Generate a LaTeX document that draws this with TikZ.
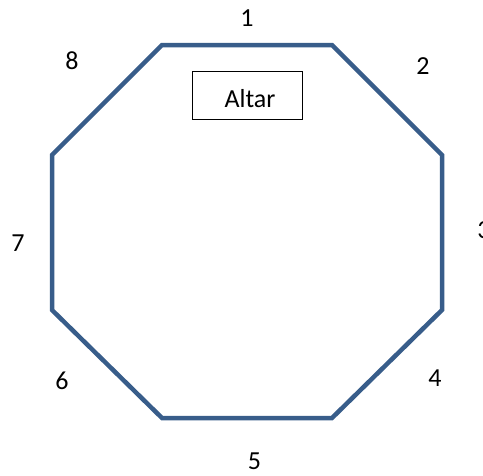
\documentclass[tikz,border=0pt]{standalone}
\usepackage{fontspec}
\setmainfont{Carlito}
\definecolor{octline}{RGB}{56,93,138}
\begin{document}
\begin{tikzpicture}[x=1pt,y=-1pt,
  lbl/.style={font=\fontsize{26}{30}\selectfont, inner sep=0pt},
  oct/.style={draw=octline, line width=4.5pt, line join=miter}]
\useasboundingbox (0,0) rectangle (483,475);
\begin{scope}
\clip (0,0) rectangle (483,475);
\coordinate (v1) at (162,45);
\coordinate (v2) at (332,45);
\coordinate (v3) at (442,155);
\coordinate (v4) at (442,310);
\coordinate (v5) at (332,418);
\coordinate (v6) at (162,418);
\coordinate (v7) at (52,310);
\coordinate (v8) at (52,155);
\draw[oct] (v1) -- (v2) -- (v3) -- (v4) -- (v5) -- (v6) -- (v7) -- (v8) -- cycle;
\node[draw=black, line width=0.8pt, minimum width=110pt, minimum height=48pt, inner sep=0pt] (altar) at (247.5,95) {};
\node[lbl] (altartext) at (250,99) {Altar};
\node[lbl] (n1) at (247,18) {1};
\node[lbl] (n2) at (423,66) {2};
\node[lbl] (n3) at (484,230) {3};
\node[lbl] (n4) at (435,378) {4};
\node[lbl] (n5) at (254.5,461) {5};
\node[lbl] (n6) at (62,381) {6};
\node[lbl] (n7) at (18,243) {7};
\node[lbl] (n8) at (72,61) {8};
\end{scope}
\end{tikzpicture}
\end{document}
